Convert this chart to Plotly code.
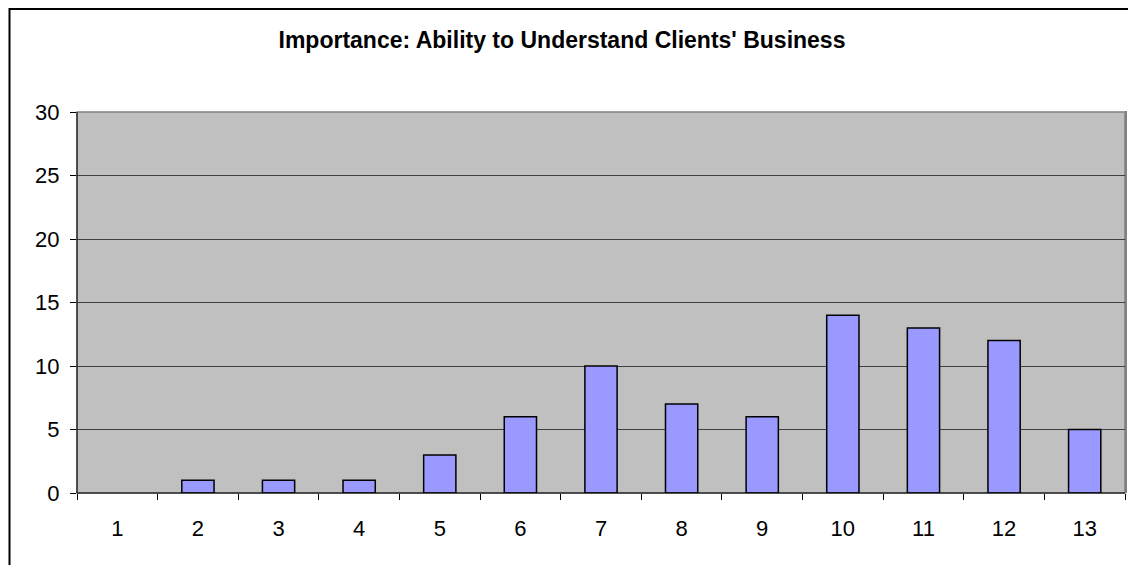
import plotly.graph_objects as go

categories = [str(i) for i in range(1, 14)]
values = [0, 1, 1, 1, 3, 6, 10, 7, 6, 14, 13, 12, 5]
title_text = "Importance: Ability to Understand Clients' Business"
y_ticks = [0, 5, 10, 15, 20, 25, 30]

# page body has an 8px default margin; work in figure coordinates
OFF = 8
W, H = 1136 - OFF, 565 - OFF
L, R, T, B = 77 - OFF, 1125 - OFF, 112 - OFF, 493 - OFF
pw, ph = R - L, B - T

def px(x):
    return (x - OFF - L) / pw

def py(y):
    return (B - (y - OFF)) / ph

fig = go.Figure(go.Bar(
    x=categories, y=values,
    marker=dict(color="#9999FF",
                line=dict(color="black", width=[1.5 if v > 0 else 0 for v in values])),
    width=0.4,
))

fig.update_layout(
    width=W, height=H,
    margin=dict(l=L, r=W - R, t=T, b=H - B),
    paper_bgcolor="white", plot_bgcolor="#C0C0C0",
    showlegend=False,
    font=dict(family="Liberation Sans, Arial, sans-serif", size=22, color="black"),
    title=dict(text="<b>" + title_text + "</b>", x=(562 - OFF) / W, xanchor="center",
               y=1 - (40 - OFF) / H, yanchor="middle",
               font=dict(size=23, color="black")),
    xaxis=dict(type="category", range=[-0.5, 12.5], showgrid=False,
               ticks="outside", tickson="boundaries", ticklen=6, tickcolor="black",
               showline=False, ticklabelstandoff=20, zeroline=False),
    yaxis=dict(range=[0, 30], tickvals=y_ticks, showgrid=True, gridcolor="#404040",
               gridwidth=1, ticks="outside", ticklen=6, tickcolor="black",
               showline=False, zeroline=False, ticklabelstandoff=6),
    shapes=[
        dict(type="rect", xref="paper", yref="paper", x0=0, x1=1, y0=0, y1=1,
             line=dict(color="#808080", width=1.5), layer="below"),
        dict(type="line", xref="paper", yref="paper", x0=px(1126), x1=px(1126), y0=py(493), y1=py(111),
             line=dict(color="#808080", width=2)),
        dict(type="line", xref="paper", yref="paper", x0=0, x1=0, y0=0, y1=1,
             line=dict(color="black", width=1)),
        dict(type="line", xref="paper", yref="paper", x0=0, x1=1, y0=0, y1=0,
             line=dict(color="black", width=1.2)),
        dict(type="rect", xref="paper", yref="paper", x0=px(9.5), x1=px(1134), y0=py(600), y1=py(9),
             line=dict(color="black", width=2)),
    ],
)

fig.write_html("out.html")
